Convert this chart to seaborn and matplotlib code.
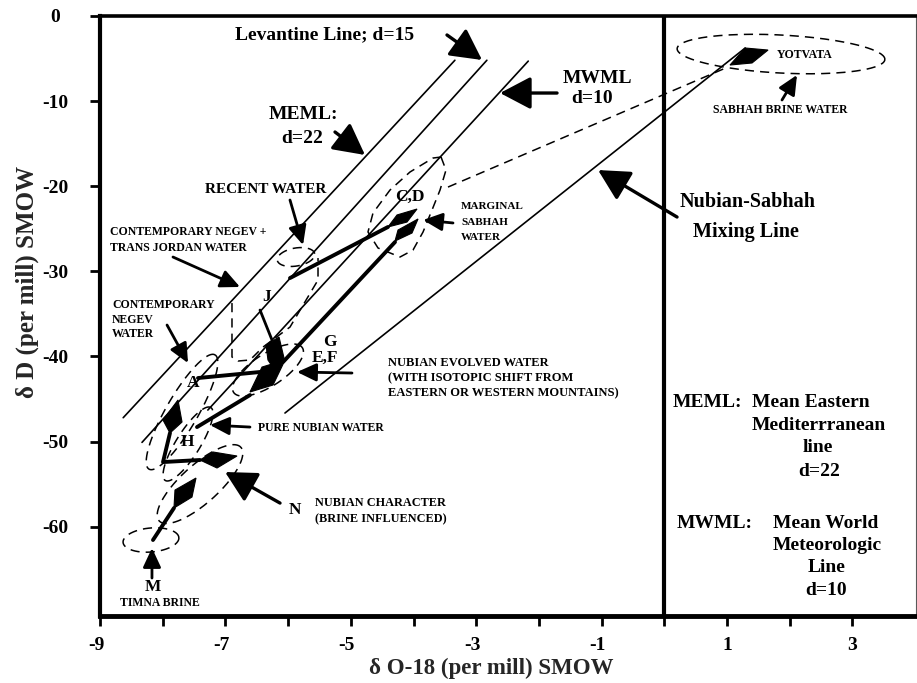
import numpy as np
import matplotlib
matplotlib.use("Agg")
import matplotlib.pyplot as plt
import seaborn as sns
from matplotlib.transforms import ScaledTranslation

# ---------------- data (delta O-18 , delta D ; per mill SMOW) ----------------
meml_x = [-8.63, -3.34]
meml_y = [-47.2, -5.2]
lev_x = [-8.33, -2.83]
lev_y = [-50.1, -5.2]
mwml_x = [-7.28, -2.17]
mwml_y = [-46.3, -5.3]
mix_x = [-6.05, 1.29]
mix_y = [-46.65, -3.76]
sabhah_x = [-3.45, 0.95]
sabhah_y = [-20.1, -6.2]

# dashed elliptical fields: recent, sabhah, timna, N, negev(A), pure nubian, E/F
field_x = [-5.874, 1.861, -8.187, -7.405, -7.692, -7.596, -6.321]
field_y = [-28.32, -4.47, -61.57, -55.0, -46.53, -50.29, -41.60]

# irregular dashed fields
tj_x = [-6.895, -6.895, -6.799, -6.608, -6.400, -5.970, -5.523, -5.523]
tj_y = [-33.73, -40.07, -40.54, -40.42, -38.90, -36.55, -31.02, -28.44]
cd_x = [-3.561, -3.482, -3.577, -3.705, -3.848, -4.008, -4.215, -4.566,
        -4.726, -4.646, -4.375, -4.056, -3.689, -3.561]
cd_y = [-16.57, -18.10, -20.45, -22.80, -25.38, -27.50, -28.32, -27.26,
        -25.38, -23.15, -20.45, -18.33, -16.69, -16.57]

# evolution paths
p_recent_x = [-5.970, -4.407]
p_recent_y = [-30.79, -24.79]
p_ef_x = [-6.081, -4.295]
p_ef_y = [-40.66, -26.56]
p_a_x = [-7.437, -6.448]
p_a_y = [-42.54, -41.83]
p_pure_x = [-7.453, -6.608]
p_pure_y = [-48.30, -44.54]
p_j_x = [-6.448, -6.257]
p_j_y = [-34.55, -38.07]
p_h_x = [-7.884, -7.995, -7.405]
p_h_y = [-49.00, -52.41, -52.17]
p_m_x = [-8.155, -7.820]
p_m_y = [-61.57, -57.81]

# filled sample markers (diamonds)
k_cd1_x = [-4.407, -4.263, -3.944, -4.104]
k_cd1_y = [-24.79, -23.38, -22.68, -24.21]
k_cd2_x = [-4.295, -4.247, -3.928, -4.024]
k_cd2_y = [-26.44, -25.15, -23.85, -25.50]
k_yot_x = [1.048, 1.287, 1.654, 1.399]
k_yot_y = [-5.76, -3.76, -4.00, -5.52]
k_n_x = [-7.820, -7.804, -7.469, -7.533]
k_n_y = [-57.81, -55.70, -54.29, -56.52]
k_mid_x = [-7.405, -7.198, -6.815, -7.134]
k_mid_y = [-52.17, -51.23, -51.70, -53.11]
k_h_x = [-7.995, -7.756, -7.692, -7.884]
k_h_y = [-47.47, -45.12, -47.71, -49.00]
k_ef_x = [-6.608, -6.416, -6.049, -6.241]
k_ef_y = [-44.18, -41.25, -40.42, -43.36]
k_g_x = [-6.352, -6.145, -6.065, -6.193, -6.321]
k_g_y = [-38.66, -37.72, -40.19, -41.83, -40.42]

# annotation arrows (tail -> tip)
arrow_tail_x = [-3.466, -5.252, -1.711, 0.203, -5.970, -7.836, -7.931,
                -3.370, -4.981, -6.608, -6.129, -8.171, 1.877]
arrow_tail_y = [-2.23, -13.63, -9.05, -23.62, -21.62, -28.32, -36.31,
                -24.32, -41.95, -48.30, -57.23, -66.04, -9.87]
arrow_tip_x = [-2.907, -4.774, -2.620, -1.057, -5.762, -6.767, -7.596,
               -3.848, -5.858, -7.246, -7.006, -8.171, 2.116]
arrow_tip_y = [-5.17, -16.33, -9.05, -18.10, -26.91, -31.84, -40.78,
               -23.97, -41.83, -48.06, -53.58, -62.51, -6.93]

# text labels
label_text = ["Levantine Line; d=15", "MEML:", "d=22", "RECENT WATER",
              "CONTEMPORARY NEGEV +", "TRANS JORDAN WATER", "CONTEMPORARY",
              "NEGEV", "WATER", "J", "C,D", "MARGINAL", "SABHAH", "WATER",
              "MWML", "d=10", "YOTVATA", "SABHAH BRINE WATER", "Nubian-Sabhah",
              "Mixing Line", "G", "E,F", "A", "H", "N", "M", "TIMNA BRINE",
              "PURE NUBIAN WATER", "NUBIAN EVOLVED WATER",
              "(WITH ISOTOPIC SHIFT FROM", "EASTERN OR WESTERN MOUNTAINS)",
              "NUBIAN CHARACTER", "(BRINE INFLUENCED)", "MEML:", "Mean Eastern",
              "Mediterrranean", "line", "d=22", "MWML:", "Mean World",
              "Meteorologic", "Line", "d=10"]
label_x = [-6.847, -5.762, -5.778, -6.352, -8.841, -8.841, -8.809, -8.809,
           -8.809, -6.337, -4.056, -3.242, -3.242, -3.242, -1.073, -1.153,
           1.797, 1.845, 0.250, 0.458, -5.332, -5.411, -7.517, -7.612, -5.890,
           -8.155, -8.043, -6.480, -4.407, -4.407, -4.407, -5.571, -5.571,
           0.139, 1.399, 2.47, 2.45, 2.47, 0.203, 2.58, 2.60, 2.58, 2.58]
label_y = [-2.23, -11.63, -14.34, -20.33, -25.38, -27.26, -33.96, -35.72,
           -37.37, -33.02, -21.27, -22.44, -24.21, -25.97, -7.29, -9.64,
           -4.58, -11.05, -21.86, -25.38, -38.31, -40.19, -43.13, -50.06,
           -58.05, -67.10, -68.98, -48.41, -40.78, -42.54, -44.30, -57.23,
           -59.11, -45.36, -45.36, -48.06, -50.76, -53.58, -59.58, -59.58,
           -62.16, -64.86, -67.45]

x_ticks = list(range(-9, 4))
x_tick_labels = ["-9", "", "-7", "", "-5", "", "-3", "", "-1", "", "1", "", "3"]
y_ticks = [0, -10, -20, -30, -40, -50, -60]
y_tick_labels = ["0", "-10", "-20", "-30", "-40", "-50", "-60"]

# ---------------- styles ----------------
field_a = [19, 104, 28, 55, 66, 43, 41]      # semi-axes in pixels
field_b = [9, 19, 12, 19, 16, 12, 16]
field_ang = [10, -3, 5, 42, 60, 58, 33]
arrow_big = [True, True, True, True, False, False, False,
             False, False, False, True, False, False]
label_size = [14, 14, 14, 11, 8.5, 8.5, 8.5, 8.5, 8.5, 12.5, 12.5, 8, 8, 8,
              14, 14, 8.5, 8.5, 14.5, 14.5, 12.5, 12.5, 12.5, 12.5, 12.5, 12.5,
              8.5, 8.5, 9, 9, 9, 8.8, 8.8, 14, 14, 14, 14, 14, 14, 14, 14, 14, 14]
label_ha = ["left", "center", "center", "center", "left", "left", "left",
            "left", "left", "center", "center", "left", "left", "left",
            "center", "center", "left", "center", "left", "left", "center",
            "center", "center", "center", "center", "center", "center", "left",
            "left", "left", "left", "left", "left", "left", "left", "center",
            "center", "center", "left", "center", "center", "center", "center"]

sns.set_theme(style="white")
plt.rcParams["font.family"] = ["Liberation Serif", "DejaVu Serif"]
plt.rcParams["axes.unicode_minus"] = False

fig = plt.figure(figsize=(9.17, 6.83), dpi=100)
ax = fig.add_axes([100 / 917, 1 - 616 / 683, 816 / 917, 600 / 683])
ax.set_xlim(-9, 4.014)
ax.set_ylim(-70.5, 0)

LW_THIN = 1.2
DASH = dict(color="black", lw=1.1, dashes=(6, 4))

# reference lines
for xs, ys in [(meml_x, meml_y), (lev_x, lev_y), (mwml_x, mwml_y), (mix_x, mix_y)]:
    sns.lineplot(x=xs, y=ys, ax=ax, color="black", lw=LW_THIN,
                 sort=False, estimator=None)
ax.plot(sabhah_x, sabhah_y, **DASH)

# dashed fields
def ellipse_pts(cx, cy, a, b, ang, n=160):
    c = ax.transData.transform((cx, cy))
    t = np.linspace(0, 2 * np.pi, n)
    th = np.deg2rad(ang)
    ex, ey = a * np.cos(t), b * np.sin(t)
    X = c[0] + ex * np.cos(th) - ey * np.sin(th)
    Y = c[1] + ex * np.sin(th) + ey * np.cos(th)
    d = ax.transData.inverted().transform(np.column_stack([X, Y]))
    return d[:, 0], d[:, 1]

for cx, cy, a, b, ang in zip(field_x, field_y, field_a, field_b, field_ang):
    ex, ey = ellipse_pts(cx, cy, a, b, ang)
    ax.plot(ex, ey, **DASH)
ax.plot(tj_x, tj_y, **DASH)
ax.plot(cd_x, cd_y, **DASH)

# evolution paths
for xs, ys in [(p_recent_x, p_recent_y), (p_ef_x, p_ef_y), (p_a_x, p_a_y),
               (p_pure_x, p_pure_y), (p_h_x, p_h_y), (p_m_x, p_m_y)]:
    sns.lineplot(x=xs, y=ys, ax=ax, color="black", lw=2.8,
                 sort=False, estimator=None)
sns.lineplot(x=p_j_x, y=p_j_y, ax=ax, color="black", lw=2.0,
             sort=False, estimator=None)

for xs, ys in [(k_cd1_x, k_cd1_y), (k_cd2_x, k_cd2_y), (k_yot_x, k_yot_y),
               (k_n_x, k_n_y), (k_mid_x, k_mid_y), (k_h_x, k_h_y),
               (k_ef_x, k_ef_y), (k_g_x, k_g_y)]:
    ax.fill(xs, ys, color="black", lw=0.8)

# annotation arrows
for tx, ty, hx, hy, big in zip(arrow_tail_x, arrow_tail_y, arrow_tip_x,
                               arrow_tip_y, arrow_big):
    if big:
        style, ms, lw = "-|>,head_length=0.95,head_width=0.5", 20, 2.4
    else:
        style, ms, lw = "-|>,head_length=0.9,head_width=0.42", 13, 2.0
    ax.annotate("", xy=(hx, hy), xytext=(tx, ty),
                arrowprops=dict(arrowstyle=style, mutation_scale=ms, lw=lw,
                                color="black", shrinkA=0, shrinkB=0))

# labels
for s, x, y, fs, ha in zip(label_text, label_x, label_y, label_size, label_ha):
    ax.text(x, y, s, fontsize=fs, fontweight="bold", ha=ha, va="center",
            color="black")

# divider at 0
ax.axvline(0, color="black", lw=3)

# axes styling
ax.set_xticks(x_ticks)
ax.set_xticklabels(x_tick_labels)
ax.set_yticks(y_ticks)
ax.set_yticklabels(y_tick_labels)
ax.tick_params(axis="both", direction="out", length=7, width=2,
               labelsize=14, colors="black", bottom=True, left=True,
               top=False, right=False)
ax.tick_params(axis="x", pad=8)
ax.tick_params(axis="y", pad=25)
for lbl in ax.get_xticklabels():
    lbl.set_fontweight("bold")
    if lbl.get_text().startswith("-"):
        lbl.set_ha("right")
        lbl.set_transform(lbl.get_transform() +
                          ScaledTranslation(3 / 72, 0, fig.dpi_scale_trans))
for lbl in ax.get_yticklabels():
    lbl.set_fontweight("bold")
    lbl.set_ha("center")

for side, w in [("left", 3), ("bottom", 3.5), ("top", 2.6), ("right", 0.8)]:
    ax.spines[side].set_visible(True)
    ax.spines[side].set_linewidth(w)
    ax.spines[side].set_color("black")
ax.spines["right"].set_color("0.35")

ax.set_xlabel("δ O-18 (per mill) SMOW", fontsize=16.5, fontweight="bold")
ax.set_ylabel("δ D (per mill) SMOW", fontsize=18, fontweight="bold")
ax.xaxis.set_label_coords(391 / 816, -0.07)
ax.yaxis.set_label_coords(-0.075, 0.557)

fig.savefig("out.png", dpi=100)
